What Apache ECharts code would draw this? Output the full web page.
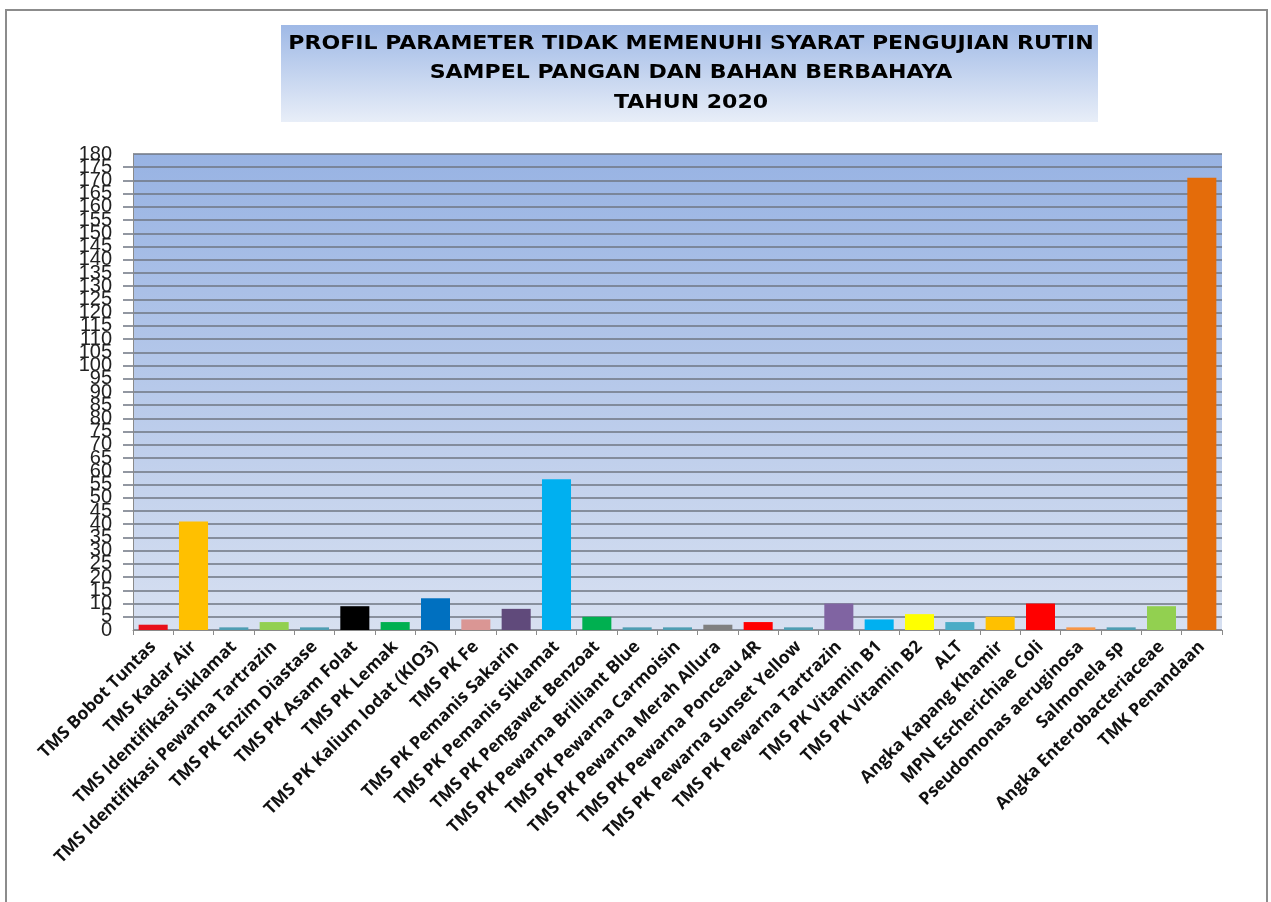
<!DOCTYPE html>
<html>
<head>
<meta charset="utf-8">
<script src="https://cdn.jsdelivr.net/npm/echarts@6/dist/echarts.min.js"></script>
<style>
html,body{margin:0;padding:0;background:#fff;}
#chart{width:1271px;height:902px;}
</style>
</head>
<body>
<div id="chart"></div>
<script>
const titleLines = [
  'PROFIL PARAMETER TIDAK MEMENUHI SYARAT PENGUJIAN RUTIN',
  'SAMPEL PANGAN DAN BAHAN BERBAHAYA',
  'TAHUN 2020'
];
const categories = [
  'TMS Bobot Tuntas', 'TMS Kadar Air', 'TMS Identifikasi Siklamat',
  'TMS Identifikasi Pewarna Tartrazin', 'TMS PK Enzim Diastase', 'TMS PK Asam Folat',
  'TMS PK Lemak', 'TMS PK Kalium Iodat (KIO3)', 'TMS PK Fe',
  'TMS PK Pemanis Sakarin', 'TMS PK Pemanis Siklamat', 'TMS PK Pengawet Benzoat',
  'TMS PK Pewarna Brilliant Blue', 'TMS PK Pewarna Carmoisin', 'TMS PK Pewarna Merah Allura',
  'TMS PK Pewarna Ponceau 4R', 'TMS PK Pewarna Sunset Yellow', 'TMS PK Pewarna Tartrazin',
  'TMS PK Vitamin B1', 'TMS PK Vitamin B2', 'ALT',
  'Angka Kapang Khamir', 'MPN Escherichiae Coli', 'Pseudomonas aeruginosa',
  'Salmonela sp', 'Angka Enterobacteriaceae', 'TMK Penandaan'
];
const values = [
  2, 41, 1,
  3, 1, 9,
  3, 12, 4,
  8, 57, 5,
  1, 1, 2,
  3, 1, 10,
  4, 6, 3,
  5, 10, 1,
  1, 9, 171
];
const barColors = [
  '#E8101A', '#FFC000', '#4F9EB3',
  '#92D050', '#4F9EB3', '#000000',
  '#00B050', '#0070C0', '#DA9694',
  '#604A7B', '#00B0F0', '#00B050',
  '#4F9EB3', '#4F9EB3', '#808080',
  '#FF0000', '#4F9EB3', '#8064A2',
  '#00B0F0', '#FFFF00', '#4BACC6',
  '#FFC000', '#FF0000', '#F79646',
  '#4F9EB3', '#92D050', '#E46C0A'
];
const yMin = 0, yMax = 180, yStep = 5;

const titleY = [44, 73.5, 103];
const titleTexts = titleLines.map((t, i) => ({
  type: 'text', z: 10, silent: true,
  x: 691, y: titleY[i], scaleX: 1.16,
  style: {
    text: t,
    x: 0, y: 0,
    textAlign: 'center',
    textVerticalAlign: 'middle',
    font: 'bold 19px "DejaVu Sans"',
    fill: '#000'
  }
}));

const yLabelStyle = {
  margin: 21,
  fontFamily: 'Liberation Sans',
  fontSize: 20,
  color: '#222'
};

const chart = echarts.init(document.getElementById('chart'), null, {renderer: 'canvas'});
const option = {
  backgroundColor: '#ffffff',
  animation: false,
  graphic: [
    {
      type: 'rect', z: -10, silent: true,
      shape: {x: 6, y: 10, width: 1261, height: 910},
      style: {fill: 'none', stroke: '#8c8c8c', lineWidth: 2}
    },
    {
      type: 'rect', z: -5, silent: true,
      shape: {x: 281, y: 25, width: 817, height: 97},
      style: {
        fill: new echarts.graphic.LinearGradient(0, 0, 0, 1, [
          {offset: 0, color: '#9FB9E6'},
          {offset: 1, color: '#E8EEF8'}
        ])
      }
    }
  ].concat(titleTexts),
  grid: {
    left: 133, right: 49, top: 154, bottom: 272,
    show: true,
    borderWidth: 0,
    backgroundColor: new echarts.graphic.LinearGradient(0, 0, 0, 1, [
      {offset: 0, color: '#98B3E3'},
      {offset: 1, color: '#D7E0F1'}
    ])
  },
  xAxis: {
    type: 'category',
    data: categories,
    axisLine: {lineStyle: {color: '#8a8a8a', width: 1}},
    axisTick: {show: true, length: 5, lineStyle: {color: '#8a8a8a'}},
    axisLabel: {
      interval: 0,
      rotate: 45,
      margin: 14,
      fontFamily: 'Open Sans',
      fontWeight: 'bold',
      fontSize: 17.5,
      color: '#111'
    }
  },
  yAxis: [
    {
      type: 'value',
      position: 'left',
      min: yMin, max: yMax, interval: yStep,
      axisLine: {show: true, lineStyle: {color: '#8a8a8a', width: 1}},
      axisTick: {show: true, length: 10, lineStyle: {color: '#6f7682', width: 1.5}},
      splitLine: {show: true, lineStyle: {color: '#6f7682', width: 1.5}},
      axisLabel: Object.assign({}, yLabelStyle)
    },
    {
      type: 'value',
      position: 'left',
      offset: 0,
      min: yMin, max: yMax, interval: yStep,
      axisLine: {show: false},
      axisTick: {show: false},
      splitLine: {show: false},
      axisLabel: Object.assign({}, yLabelStyle, {
        showMinLabel: true,
        showMaxLabel: true,
        formatter: function (v) { return (v === yMin || v === yMax) ? String(v) : ''; }
      })
    }
  ],
  series: [{
    type: 'bar',
    yAxisIndex: 0,
    data: values.map((v, i) => ({value: v, itemStyle: {color: barColors[i]}})),
    barCategoryGap: '28%'
  }]
};
chart.setOption(option);
</script>
</body>
</html>
